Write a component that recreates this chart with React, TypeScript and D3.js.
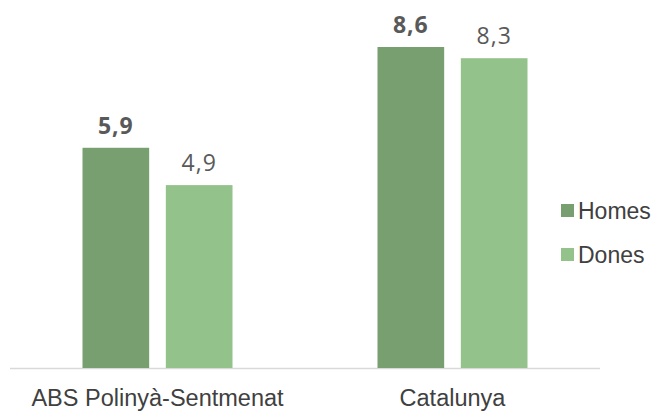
import { useEffect, useRef } from "react";
import * as d3 from "d3";

const categories = ["ABS Polinyà-Sentmenat", "Catalunya"];
const series = ["Homes", "Dones"];
const homes = [5.9, 8.6];
const dones = [4.9, 8.3];
const colors = ["#789f6f", "#93c28a"];

const W = 655;
const H = 414;

export default function App() {
  const svgRef = useRef<SVGSVGElement>(null);

  useEffect(() => {
    if (!svgRef.current) return;
    const svg = d3.select(svgRef.current);
    svg.selectAll("*").remove();

    const baseY = 368;
    const values = [homes, dones];

    const x0 = d3.scaleBand().domain(categories).range([10, 600]);
    const x1 = d3
      .scaleBand()
      .domain(series)
      .range([72.5, 222.5])
      .paddingInner(0.2);
    const y = d3.scaleLinear().domain([0, 8.6]).range([baseY, 47]);

    // baseline
    svg
      .append("line")
      .attr("x1", 10)
      .attr("x2", 600)
      .attr("y1", baseY + 0.5)
      .attr("y2", baseY + 0.5)
      .attr("stroke", "#d9d9d9")
      .attr("stroke-width", 1.5);

    const groups = svg
      .selectAll(".grp")
      .data(categories)
      .join("g")
      .attr("class", "grp")
      .attr("transform", (d) => `translate(${x0(d)},0)`);

    series.forEach((s, si) => {
      groups
        .append("rect")
        .attr("x", x1(s) || 0)
        .attr("y", (_, i) => y(values[si][i]))
        .attr("width", x1.bandwidth())
        .attr("height", (_, i) => baseY - y(values[si][i]))
        .attr("fill", colors[si]);

      groups
        .append("text")
        .attr("x", (x1(s) || 0) + x1.bandwidth() / 2)
        .attr("y", (_, i) => y(values[si][i]) - 14)
        .attr("text-anchor", "middle")
        .attr("font-family", "'Open Sans', sans-serif")
        .attr("font-size", 23)
        .attr("font-weight", si === 0 ? 700 : 400)
        .attr("letter-spacing", 1)
        .attr("fill", "#595959")
        .text((_, i) => d3.format(".1f")(values[si][i]).replace(".", ","));
    });

    // category labels
    svg
      .selectAll(".cat")
      .data(categories)
      .join("text")
      .attr("class", "cat")
      .attr("x", (d) => (x0(d) || 0) + x0.bandwidth() / 2)
      .attr("y", 406)
      .attr("text-anchor", "middle")
      .attr("font-family", "'Liberation Sans', Arial, sans-serif")
      .attr("font-size", 23.5)
      .attr("fill", "#404040")
      .text((d) => d);

    // legend
    const legend = svg
      .selectAll(".leg")
      .data(series)
      .join("g")
      .attr("class", "leg")
      .attr("transform", (_, i) => `translate(561,${204 + i * 44})`);
    legend
      .append("rect")
      .attr("width", 13)
      .attr("height", 13)
      .attr("fill", (_, i) => colors[i]);
    legend
      .append("text")
      .attr("x", 17)
      .attr("y", 15)
      .attr("font-family", "'Liberation Sans', Arial, sans-serif")
      .attr("font-size", 23)
      .attr("fill", "#404040")
      .text((d) => d);
  }, []);

  return (
    <svg
      ref={svgRef}
      width={W}
      height={H}
      style={{ position: "absolute", left: 0, top: 0, background: "#fff" }}
    />
  );
}
